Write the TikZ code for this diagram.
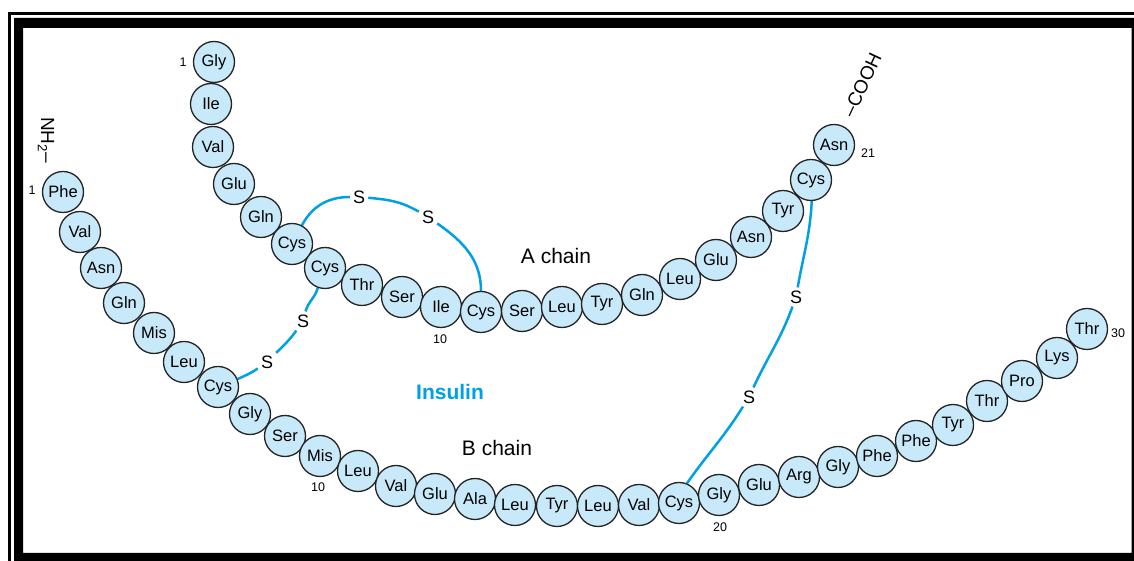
\documentclass[tikz,border=0pt]{standalone}
\usepackage{fontspec}
\setmainfont{Liberation Sans}

\definecolor{bondblue}{RGB}{0,161,228}
\definecolor{cellfill}{RGB}{200,233,250}
\definecolor{rim}{RGB}{35,35,35}

\pgfdeclarelayer{paper}
\pgfdeclarelayer{bonds}
\pgfsetlayers{paper,bonds,main}

\tikzset{
  res/.style={circle, draw=rim, line width=1.3pt, fill=cellfill,
    minimum size=41pt, inner sep=0pt, font=\fontsize{16.5}{16.5}\selectfont},
  sulfur/.style={inner sep=3pt, font=\fontsize{18}{18}\selectfont},
  bond/.style={draw=bondblue, line width=2.5pt},
  idx/.style={inner sep=0pt, font=\fontsize{12.5}{12.5}\selectfont},
  chainlabel/.style={inner sep=0pt, font=\fontsize{21}{21}\selectfont},
  term/.style={inner sep=0pt, font=\fontsize{19}{19}\selectfont},
}

\begin{document}
\begin{tikzpicture}[x=1pt,y=1pt]
\useasboundingbox (0,0) rectangle (1134,561);
\clip (0,0) rectangle (1134,561);

% paper and double frame
\begin{pgfonlayer}{paper}
  \fill[white] (0,0) rectangle (1134,561);
  \draw[black, line width=3pt] (9.5,-20) rectangle (1160,547.5);
  \fill[black, even odd rule] (14,-20) rectangle (1160,543)
                              (23,8) rectangle (1131.5,533);
\end{pgfonlayer}

% A chain
\foreach \n/\t/\px/\py in {
  a1/Gly/214/499, a2/Ile/211/457, a3/Val/213/414, a4/Glu/234/377,
  a5/Gln/261/344, a6/Cys/292/317, a7/Cys/325/293, a8/Thr/362/276,
  a9/Ser/402/264, a10/Ile/441/254, a11/Cys/481/249, a12/Ser/522/250,
  a13/Leu/562/254, a14/Tyr/602/257, a15/Gln/642/266, a16/Leu/680/282,
  a17/Glu/716/301, a18/Asn/751/324, a19/Tyr/783/350, a20/Cys/811/381,
  a21/Asn/834/416}
  \node[res] (\n) at (\px,\py) {\t};

% B chain
\foreach \n/\t/\px/\py in {
  b1/Phe/63/369, b2/Val/80/329, b3/Asn/101/293, b4/Gln/124/258,
  b5/Mis/154/228, b6/Leu/184/199, b7/Cys/218/174, b8/Gly/250/147,
  b9/Ser/285/125, b10/Mis/320/105, b11/Leu/358/90, b12/Val/396/75,
  b13/Glu/435/67, b14/Ala/475/62, b15/Leu/515/56, b16/Tyr/557/55,
  b17/Leu/598/55, b18/Val/639/56, b19/Cys/679/58, b20/Gly/719/66,
  b21/Glu/759/76, b22/Arg/799/84, b23/Gly/838/94, b24/Phe/877/105,
  b25/Phe/916/120, b26/Tyr/953/136, b27/Thr/987/160, b28/Pro/1022/180,
  b29/Lys/1057/203, b30/Thr/1087/232}
  \node[res] (\n) at (\px,\py) {\t};

% residue numbers
\node[idx] (na1)  at (183,499) {1};
\node[idx] (na10) at (440,222) {10};
\node[idx] (na21) at (868,408) {21};
\node[idx] (nb1)  at (32,371)  {1};
\node[idx] (nb10) at (318,74)  {10};
\node[idx] (nb20) at (720,34)  {20};
\node[idx] (nb30) at (1118,228) {30};

% termini
\node[term, rotate=-90] (nterm) at (46,421) {NH\textsubscript{2}–};
\node[term, rotate=65]  (cterm) at (862,476) {–COOH};

% captions
\node[chainlabel] (achain) at (556,305) {A chain};
\node[chainlabel] (bchain) at (497,113) {B chain};
\node[chainlabel, text=bondblue, font=\fontsize{21}{21}\selectfont\bfseries]
  (insulin) at (450,169) {Insulin};

% sulfur atoms of the disulfide bridges
\node[sulfur] (s1) at (359,364) {S};
\node[sulfur] (s2) at (428,344) {S};
\node[sulfur] (s3) at (303,240) {S};
\node[sulfur] (s4) at (267,199) {S};
\node[sulfur] (s5) at (796,264) {S};
\node[sulfur] (s6) at (749,164) {S};

% disulfide bridges
\begin{pgfonlayer}{bonds}
  \draw[bond] (a6.62) to[out=62,in=180] (s1);
  \draw[bond] (s1) to[out=-5,in=150] (s2);
  \draw[bond] (s2) to[out=-35,in=90] (a11.90);
  \draw[bond] (a7.250) to[out=255,in=75] (s3);
  \draw[bond] (s3) to[out=235,in=45] (s4);
  \draw[bond] (s4) to[out=215,in=25] (b7.22);
  \draw[bond] (a20.272) to[out=267,in=80] (s5);
  \draw[bond] (s5) to[out=250,in=65] (s6);
  \draw[bond] (s6) to[out=238,in=55] (b19.68);
\end{pgfonlayer}
\end{tikzpicture}
\end{document}
